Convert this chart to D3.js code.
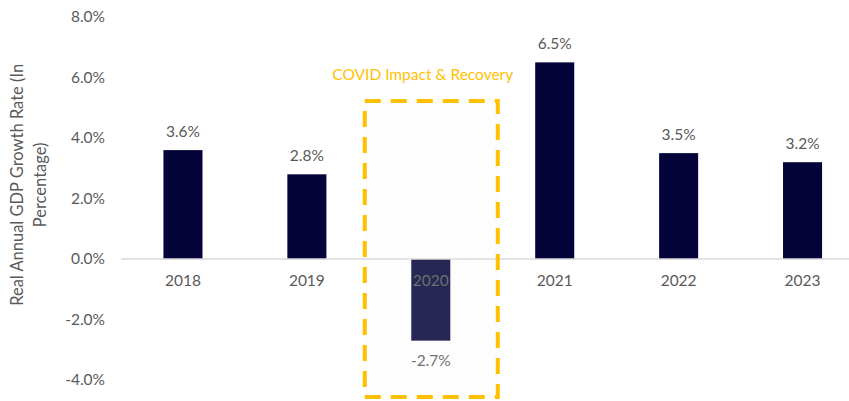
<!DOCTYPE html>
<html>
<head>
<meta charset="utf-8">
<script src="https://cdn.jsdelivr.net/npm/d3@7"></script>
<style>
html,body{margin:0;padding:0;background:#fff;}
svg{display:block;font-family:Lato,"Open Sans",sans-serif;}
</style>
</head>
<body>
<svg id="chart" width="849" height="401"></svg>
<script>
const years = ["2018","2019","2020","2021","2022","2023"];
const growth = [3.6, 2.8, -2.7, 6.5, 3.5, 3.2];
const yTicks = [-4, -2, 0, 2, 4, 6, 8];
const highlightYear = "2020";
const highlightLabel = "COVID Impact & Recovery";
const yTitleLines = ["Real Annual GDP Growth Rate (In", "Percentage)"];

const svg = d3.select("#chart");
const x = d3.scaleBand().domain(years).range([121, 864.5]).paddingInner(0.685).paddingOuter(0.3425);
const y = d3.scaleLinear().domain([-4, 8]).range([380, 17]);
const fmt = v => v.toFixed(1) + "%";
const textCol = "#595959";
const fs = "15.5px";

// y axis labels
const yAxis = d3.axisLeft(y).tickValues(yTicks).tickFormat(fmt).tickSize(0).tickPadding(0);
const gy = svg.append("g").attr("transform", "translate(105,0)").call(yAxis);
gy.select(".domain").remove();
gy.selectAll("text").attr("fill", textCol).style("font-size", fs).style("font-family", "Lato");

// y title
const yt = svg.append("text").attr("transform", "translate(28," + y(2.45) + ") rotate(-90)")
  .attr("text-anchor", "middle").attr("fill", textCol).style("font-size", "16.5px");
yTitleLines.forEach((l, i) => yt.append("tspan").attr("x", 0).attr("dy", i === 0 ? "-0.3em" : "1.4em").text(l));

// bars
svg.append("g").selectAll("rect").data(years).join("rect")
  .attr("x", d => x(d))
  .attr("width", x.bandwidth())
  .attr("y", (d, i) => y(Math.max(0, growth[i])))
  .attr("height", (d, i) => Math.abs(y(growth[i]) - y(0)))
  .attr("fill", "#04043a");

// zero line
svg.append("line").attr("x1", 121).attr("x2", 864).attr("y1", y(0)).attr("y2", y(0))
  .attr("stroke", "#d9d9d9").attr("stroke-width", 1.5);

// category labels
const xAxis = d3.axisBottom(x).tickSize(0).tickPadding(0);
const gx = svg.append("g").attr("transform", "translate(0," + (y(0) + 23) + ")").call(xAxis);
gx.select(".domain").remove();
gx.selectAll("text").attr("fill", textCol).style("font-size", fs).style("font-family", "Lato").attr("dy", "0").attr("y", 0)
  .attr("dominant-baseline", "middle");

// value labels
svg.append("g").selectAll("text").data(years).join("text")
  .attr("x", d => x(d) + x.bandwidth() / 2)
  .attr("y", (d, i) => growth[i] >= 0 ? y(growth[i]) - 19 : y(growth[i]) + 20)
  .attr("dy", "0.35em")
  .attr("text-anchor", "middle").attr("fill", textCol).style("font-size", fs)
  .text((d, i) => fmt(growth[i]));

// highlight box
const hx = x(highlightYear) + x.bandwidth() / 2;
const bx0 = hx - 66, bx1 = hx + 67;
svg.append("rect").attr("x", bx0).attr("y", 101).attr("width", bx1 - bx0).attr("height", 296)
  .attr("fill", "#f0f0f0").attr("fill-opacity", 0.15)
  .attr("stroke", "#FFC000").attr("stroke-width", 4).attr("stroke-dasharray", "16,10");
svg.append("text").attr("x", hx - 8).attr("y", 75).attr("dy", "0.35em").attr("text-anchor", "middle")
  .attr("fill", "#FFC000").style("font-size", fs).text(highlightLabel);
</script>
</body>
</html>
